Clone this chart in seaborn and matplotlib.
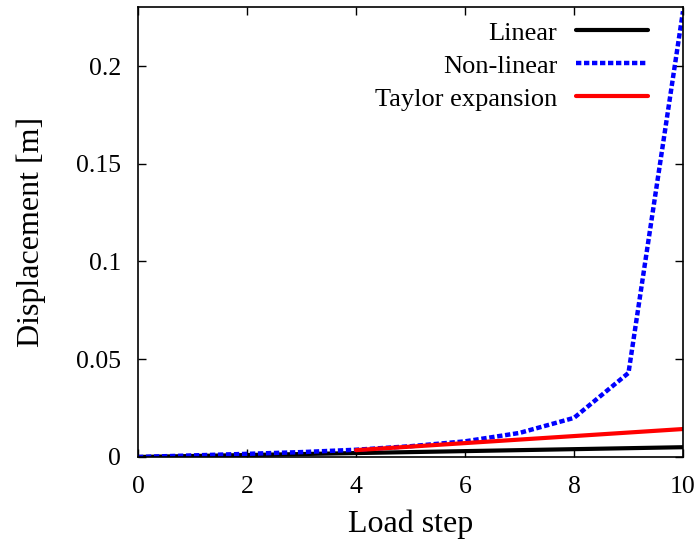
import numpy as np
import pandas as pd
import seaborn as sns
import matplotlib.pyplot as plt

# values
steps = [0, 1, 2, 3, 4, 5, 6, 7, 8, 9, 10]
linear = [0.0, 0.0005, 0.001, 0.0015, 0.002, 0.0025, 0.003, 0.0035, 0.004, 0.0045, 0.005]
nonlinear = [0.0, 0.0008, 0.0016, 0.0025, 0.0037, 0.0055, 0.0080, 0.0123, 0.0200, 0.0430, 0.228]
taylor_steps = [4, 5, 6, 7, 8, 9, 10]
taylor = [0.0035, 0.0053, 0.0071, 0.0089, 0.0107, 0.0125, 0.0143]

sns.set_style("ticks")
plt.rcParams['font.family'] = ['Liberation Serif', 'DejaVu Serif']
plt.rcParams['text.color'] = 'black'
plt.rcParams['axes.labelcolor'] = 'black'

fig = plt.figure(figsize=(6.99, 5.45), dpi=100)
ax = fig.add_axes([0.1974, 0.1615, 0.7797, 0.8257])

sns.lineplot(x=steps, y=linear, ax=ax, color='black', lw=3, label='Linear')
sns.lineplot(x=steps, y=nonlinear, ax=ax, color='blue', lw=3.2,
             linestyle=(0, (1.2, 0.6)), label='Non-linear')
sns.lineplot(x=taylor_steps, y=taylor, ax=ax, color='red', lw=3,
             label='Taylor expansion')

ax.set_xlim(0, 10)
ax.set_ylim(0, 0.2302)
ax.set_xticks([0, 2, 4, 6, 8, 10])
ax.set_yticks([0, 0.05, 0.1, 0.15, 0.2])
ax.set_yticklabels(['0', '0.05', '0.1', '0.15', '0.2'])
ax.tick_params(direction='in', top=True, right=True, length=5.5, width=1,
               labelsize=18.5, colors='black')
ax.tick_params(axis='y', pad=12)
ax.tick_params(axis='x', pad=14)
for s in ax.spines.values():
    s.set_linewidth(1.2)
    s.set_color('black')

ax.set_xlabel('Load step', fontsize=23, labelpad=8)
ax.set_ylabel('Displacement [m]', fontsize=23, labelpad=22)

leg = ax.legend(loc='upper right', bbox_to_anchor=(0.956, 0.992),
                markerfirst=False, frameon=False,
                fontsize=19, handlelength=2.75, labelspacing=0.36,
                borderaxespad=0, handletextpad=0.7)

fig.savefig('out.png', dpi=100)
